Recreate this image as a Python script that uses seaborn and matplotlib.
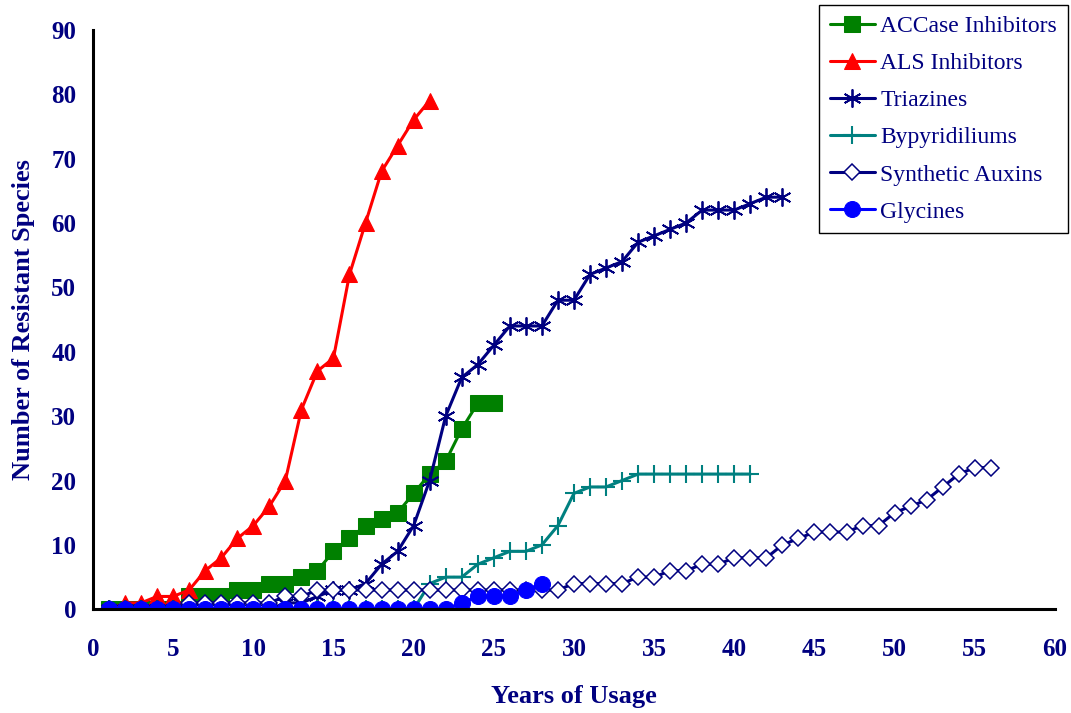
import numpy as np
import pandas as pd
import matplotlib
matplotlib.use('Agg')
import matplotlib.pyplot as plt
import seaborn as sns

# values (years of usage -> resistant species)
accase = [0, 0, 0, 0, 0, 2, 2, 2, 3, 3, 4, 4, 5, 6, 9, 11, 13, 14, 15, 18, 21, 23, 28, 32, 32]
als = [0, 1, 1, 2, 2, 3, 6, 8, 11, 13, 16, 20, 31, 37, 39, 52, 60, 68, 72, 76, 79]
triazines = [0] * 11 + [1, 1, 2, 3, 3, 4, 7, 9, 13, 20, 30, 36, 38, 41, 44, 44, 44, 48, 48,
                        52, 53, 54, 57, 58, 59, 60, 62, 62, 62, 63, 64, 64]
bypyridiliums = [0] * 20 + [4, 5, 5, 7, 8, 9, 9, 10, 13, 18, 19, 19, 20] + [21] * 8
auxins = [0] * 5 + [1] * 6 + [2] * 2 + [3] * 16 + [4] * 4 + [5, 5, 6, 6, 7, 7, 8, 8, 8, 10, 11,
                                                              12, 12, 12, 13, 13, 15, 16, 17, 19, 21, 22, 22]
glycines = [0] * 22 + [1, 2, 2, 2, 3, 4]

labels = ['ACCase Inhibitors', 'ALS Inhibitors', 'Triazines', 'Bypyridiliums',
          'Synthetic Auxins', 'Glycines']
series = [accase, als, triazines, bypyridiliums, auxins, glycines]

navy = '#000080'
styles = [
    dict(color='#008000', marker='s', markersize=11, markerfacecolor='#008000', markeredgecolor='#008000'),
    dict(color='#FF0000', marker='^', markersize=12, markerfacecolor='#FF0000', markeredgecolor='#FF0000'),
    dict(color=navy, marker=(6, 2, 0), markersize=13, markeredgecolor=navy, markeredgewidth=1.3),
    dict(color='#008080', marker='+', markersize=13, markeredgecolor='#008080', markeredgewidth=1.5),
    dict(color=navy, marker='D', markersize=8, markerfacecolor='white', markeredgecolor=navy,
         markeredgewidth=1.1),
    dict(color='#0000FF', marker='o', markersize=11.5, markerfacecolor='#0000FF', markeredgecolor='#0000FF'),
]

sns.set_style('white')
plt.rcParams['font.family'] = ['Liberation Serif', 'DejaVu Serif']

fig = plt.figure(figsize=(10.71, 7.13), dpi=100)
ax = fig.add_axes([0.0868, 0.1454, 0.8982, 0.8129])

for name, vals, st in zip(labels, series, styles):
    df = pd.DataFrame({'year': np.arange(1, len(vals) + 1), 'n': vals})
    sns.lineplot(data=df, x='year', y='n', ax=ax, label=name, linewidth=2.2, **st)

ax.set_xlim(0, 60)
ax.set_ylim(0, 90)
ax.set_xticks(range(0, 61, 5))
ax.set_yticks(range(0, 91, 10))
for s in ['top', 'right']:
    ax.spines[s].set_visible(False)
for s in ['left', 'bottom']:
    ax.spines[s].set_color('black')
    ax.spines[s].set_linewidth(2.2)
ax.tick_params(axis='both', direction='out', length=5, width=2, color='black',
               labelcolor=navy, labelsize=18)
ax.tick_params(axis='x', pad=16)
ax.tick_params(axis='y', pad=7)
for lab in ax.get_xticklabels() + ax.get_yticklabels():
    lab.set_fontweight('bold')

ax.set_xlabel('Years of Usage', fontsize=19, fontweight='bold', color=navy, labelpad=17)
ax.set_ylabel('Number of Resistant Species', fontsize=19, fontweight='bold', color=navy, labelpad=12)

leg = ax.legend(loc='upper right', bbox_to_anchor=(0.997, 0.993), bbox_transform=fig.transFigure,
                borderaxespad=0, fancybox=False, framealpha=1, edgecolor='black', fontsize=17,
                handlelength=1.9, labelspacing=0.66, borderpad=0.45, handletextpad=0.25)
leg.get_frame().set_linewidth(1.0)
for t in leg.get_texts():
    t.set_color(navy)

fig.savefig('out.png', dpi=100)
